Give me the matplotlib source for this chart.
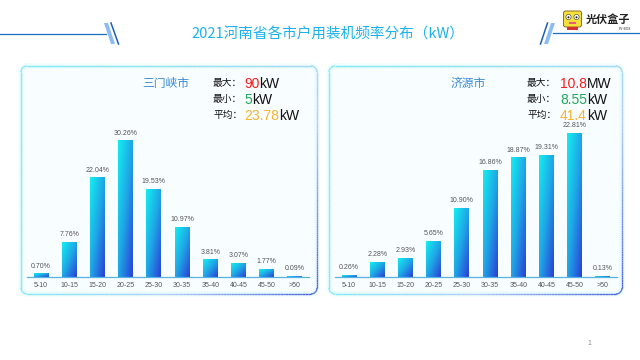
import numpy as np
import matplotlib
matplotlib.use("Agg")
import matplotlib.pyplot as plt
from matplotlib.colors import LinearSegmentedColormap
from matplotlib.collections import LineCollection
from matplotlib.patches import FancyBboxPatch, Circle, Polygon, Rectangle

plt.rcParams['font.family'] = ['Noto Sans CJK SC', 'DejaVu Sans']

title = '2021河南省各市户用装机频率分布（kW）'
categories = ['5-10', '10-15', '15-20', '20-25', '25-30', '30-35', '35-40', '40-45', '45-50', '>50']

city_a = '三门峡市'
share_a = [0.70, 7.76, 22.04, 30.26, 19.53, 10.97, 3.81, 3.07, 1.77, 0.09]
stats_a = [('最大：', '90', 'kW'), ('最小：', '5', 'kW'), ('平均：', '23.78', 'kW')]

city_b = '济源市'
share_b = [0.26, 2.28, 2.93, 5.65, 10.90, 16.86, 18.87, 19.31, 22.81, 0.13]
stats_b = [('最大：', '10.8', 'MW'), ('最小：', '8.55', 'kW'), ('平均：', '41.4', 'kW')]

stat_colors = ['#ff1a1a', '#1fa95a', '#f7b22e']

W, H = 640, 360
fig = plt.figure(figsize=(6.4, 3.6), dpi=100, facecolor='white')

# background layer in pixel coordinates (y downwards)
bg = fig.add_axes([0, 0, 1, 1], zorder=0)
bg.set_xlim(0, W)
bg.set_ylim(H, 0)
bg.axis('off')

bar_cmap = LinearSegmentedColormap.from_list('bar', ['#14eef0', '#1fa6e6', '#2a40d6'])
edge_cmap = LinearSegmentedColormap.from_list('edge', ['#7ae8f2', '#aecbf6', '#4460da'])


def rounded_pts(x0, y0, x1, y1, r, n=400):
    pts = []
    def edge(a, b):
        for t in np.linspace(0, 1, n // 4, endpoint=False):
            pts.append((a[0] + (b[0] - a[0]) * t, a[1] + (b[1] - a[1]) * t))
    def arc(cx, cy, a0, a1):
        for a in np.linspace(np.radians(a0), np.radians(a1), 10, endpoint=False):
            pts.append((cx + r * np.cos(a), cy + r * np.sin(a)))
    edge((x0 + r, y0), (x1 - r, y0))
    arc(x1 - r, y0 + r, -90, 0)
    edge((x1, y0 + r), (x1, y1 - r))
    arc(x1 - r, y1 - r, 0, 90)
    edge((x1 - r, y1), (x0 + r, y1))
    arc(x0 + r, y1 - r, 90, 180)
    edge((x0, y1 - r), (x0, y0 + r))
    arc(x0 + r, y0 + r, 180, 270)
    pts.append(pts[0])
    return np.array(pts)


def panel_box(x0, y0, x1, y1):
    bg.add_patch(FancyBboxPatch((x0, y0), x1 - x0, y1 - y0,
                                boxstyle='round,pad=0,rounding_size=6',
                                facecolor='#f8fdff', edgecolor='none'))
    pts = rounded_pts(x0, y0, x1, y1, 6)
    # faint glow
    bg.plot(pts[:, 0], pts[:, 1], color='#8ff0f6', lw=4, alpha=0.12)
    xn = (pts[:, 0] - x0) / (x1 - x0)
    yn = (pts[:, 1] - y0) / (y1 - y0)
    t = xn * (0.35 + 0.65 * yn)
    segs = np.stack([pts[:-1], pts[1:]], axis=1)
    lc = LineCollection(segs, colors=edge_cmap(t[:-1]), linewidths=1.0)
    bg.add_collection(lc)


panel_box(21, 66, 317, 294)
panel_box(329, 66, 622, 294)

# header line + slashes
bg.plot([0, 106], [34, 34], color='#1a6fc0', lw=0.9)
bg.add_patch(Polygon([(104, 23), (108, 23), (115, 44), (111, 44)], closed=True,
                     facecolor='#8cbcf5', edgecolor='none'))
bg.plot([111, 118.5], [23, 44], color='#1d5fb8', lw=1.1)
bg.plot([553, 640], [33.3, 33.3], color='#1a6fc0', lw=0.9)
bg.plot([540.5, 547.5], [44, 23], color='#1d5fb8', lw=1.1)
bg.add_patch(Polygon([(544, 44), (548, 44), (555, 23), (551, 23)], closed=True,
                     facecolor='#8cbcf5', edgecolor='none'))

bg.text(328, 35, title, ha='center', va='center', fontsize=10.5, color='#1cb2ee')

# logo
bg.add_patch(FancyBboxPatch((563.5, 11), 18, 16, boxstyle='round,pad=0,rounding_size=2',
                            facecolor='#f6df3a', edgecolor='#7a5a10', lw=0.6))
for ex in (568.5, 576.5):
    bg.add_patch(Circle((ex, 17), 2.6, facecolor='white', edgecolor='#333', lw=0.4))
    bg.add_patch(Circle((ex, 17.3), 1.0, facecolor='#222'))
bg.add_patch(Rectangle((569, 21.5), 7, 2.5, facecolor='#e85a7a', edgecolor='none'))
bg.add_patch(Rectangle((567, 27), 11, 3, facecolor='#d83030', edgecolor='none'))
bg.text(586, 19, '光伏盒子', ha='left', va='center', fontsize=8, fontweight='bold', color='#222')
bg.text(631, 28.5, 'PV-BOX', ha='right', va='center', fontsize=2.5, color='#333')

bg.text(589, 343, '1', ha='center', va='center', fontsize=5, color='#888')


def draw_bars(ax, vals, ymax):
    w = 0.53
    gx = np.linspace(0, 1, 24)
    gy = np.linspace(0, 1, 64)
    GX, GY = np.meshgrid(gx, gy)
    grad = 0.5 * GX + 0.5 * (1 - GY)
    for i, v in enumerate(vals):
        ax.imshow(grad, extent=[i - w / 2, i + w / 2, 0, v], origin='lower',
                  cmap=bar_cmap, vmin=0, vmax=1, aspect='auto', zorder=2)
        ax.annotate(f'{v:.2f}%', xy=(i, v), xytext=(0, 3), textcoords='offset points',
                    ha='center', va='bottom', fontsize=5, color='#555555',
                    family='Liberation Sans')
    ax.set_xlim(-0.5, 9.5)
    ax.set_ylim(0, ymax)
    ax.set_xticks(range(len(categories)))
    ax.set_xticklabels(categories, fontsize=5, color='#555555', family='Liberation Sans')
    ax.tick_params(length=0, pad=3.5)
    ax.set_yticks([])
    for s in ['top', 'left', 'right']:
        ax.spines[s].set_visible(False)
    ax.spines['bottom'].set_color('#58b2e4')
    ax.spines['bottom'].set_linewidth(0.9)
    ax.patch.set_visible(False)


def draw_stats(x_lab, x_num, stats):
    for (lab, num, unit), c, y in zip(stats, stat_colors, [83, 99, 115]):
        bg.text(x_lab, y, lab, ha='left', va='center', fontsize=7, color='#111')
        t = bg.text(x_num, y + 0.5, num, ha='left', va='center', fontsize=10,
                    color=c, family='Liberation Sans')
        bg.annotate(unit, xy=(1, 0), xycoords=t, ha='left', va='bottom',
                    fontsize=10, color='#111', family='Liberation Sans')


ax1 = fig.add_axes([27 / W, 83 / H, 282 / W, 157 / H], zorder=1)
draw_bars(ax1, share_a, 157 / 4.5)
ax2 = fig.add_axes([335 / W, 83 / H, 282 / W, 157 / H], zorder=1)
draw_bars(ax2, share_b, 157 / 6.31)

bg.text(166, 83, city_a, ha='center', va='center', fontsize=8.5, color='#3a8ad6')
bg.text(468, 83, city_b, ha='center', va='center', fontsize=8.5, color='#3a8ad6')
draw_stats(213, 244, stats_a)
draw_stats(527, 560, stats_b)

fig.savefig('out.png', dpi=100)
